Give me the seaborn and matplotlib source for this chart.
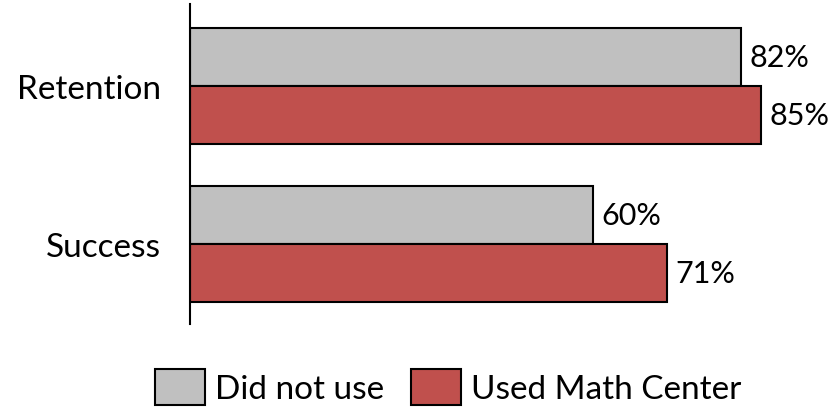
import seaborn as sns
import pandas as pd
import matplotlib.pyplot as plt

categories = ['Retention', 'Success']
groups = ['Did not use', 'Used Math Center']
did_not_use = [82, 60]
used_center = [85, 71]

df = pd.DataFrame({
    'Measure': categories * 2,
    'Group': [groups[0]] * 2 + [groups[1]] * 2,
    'Percent': did_not_use + used_center,
})

sns.set_style('white')
plt.rcParams['font.family'] = ['Lato', 'DejaVu Sans']
plt.rcParams['text.color'] = 'black'
plt.rcParams['ytick.color'] = 'black'

fig = plt.figure(figsize=(8.4, 4.1), dpi=100)
ax = fig.add_axes([190 / 840, 85 / 410, 645 / 840, 320 / 410])

sns.barplot(data=df, y='Measure', x='Percent', hue='Group', orient='h',
            palette=['#C0C0C0', '#C0504D'], saturation=1, width=0.73,
            edgecolor='black', linewidth=1.5, ax=ax)

for c in ax.containers:
    ax.bar_label(c, fmt='%d%%', padding=6, fontsize=22, color='black')

ax.set_xlim(0, 96)
ax.set_ylim(1.506, -0.52)
ax.set_xlabel('')
ax.set_ylabel('')
ax.set_xticks([])
ax.tick_params(axis='y', length=0, pad=21, labelsize=24, labelcolor='black')
for s in ['top', 'right', 'bottom']:
    ax.spines[s].set_visible(False)
ax.spines['left'].set_color('black')
ax.spines['left'].set_linewidth(1.5)

ax.legend_.remove()
handles, labels = ax.get_legend_handles_labels()
fig.legend(handles, labels, loc='center', bbox_to_anchor=(448 / 840, 1 - 388 / 410),
           ncol=2, frameon=False, fontsize=24, handlelength=1.5, handleheight=1.25,
           handletextpad=0.3, columnspacing=0.8)

fig.savefig('out.png', dpi=100)
